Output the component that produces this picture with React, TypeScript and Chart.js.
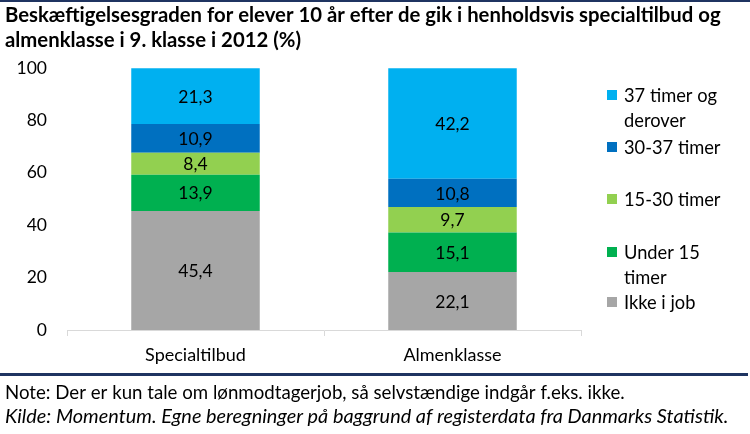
import React, { useEffect, useRef } from 'react';
import { Chart, registerables } from 'chart.js';

Chart.register(...registerables);

const categories = ['Specialtilbud', 'Almenklasse'];
const seriesNames = ['Ikke i job', 'Under 15 timer', '15-30 timer', '30-37 timer', '37 timer og derover'];
const ikkeIJob = [45.4, 22.1];
const under15 = [13.9, 15.1];
const timer15til30 = [8.4, 9.7];
const timer30til37 = [10.9, 10.8];
const timer37plus = [21.3, 42.2];
const seriesColors = ['#A6A6A6', '#00B050', '#92D050', '#0070C0', '#00B0F0'];
const yMin = 0;
const yMax = 100;
const yStep = 20;

const titleLines = [
  'Beskæftigelsesgraden for elever 10 år efter de gik i henholdsvis specialtilbud og',
  'almenklasse i 9. klasse i 2012 (%)',
];
const noteText = 'Note: Der er kun tale om lønmodtagerjob, så selvstændige indgår f.eks. ikke.';
const sourceText = 'Kilde: Momentum. Egne beregninger på baggrund af registerdata fra Danmarks Statistik.';
// legend (top to bottom), wrapped as in the original
const legendLines = [
  ['37 timer og', 'derover'],
  ['30-37 timer'],
  ['15-30 timer'],
  ['Under 15', 'timer'],
  ['Ikke i job'],
];
const legendColors = ['#00B0F0', '#0070C0', '#92D050', '#00B050', '#A6A6A6'];

const FONT = 'Lato, "Open Sans", sans-serif';
const NAVY = '#1F3461';

// pick a font size so that a text spans a given width
function fitFont(ctx: CanvasRenderingContext2D, style: string, text: string, target: number, maxSize: number) {
  ctx.font = `${style} 20px ${FONT}`;
  const w = ctx.measureText(text).width;
  const size = Math.min(maxSize, (20 * target) / w);
  return `${style} ${size.toFixed(2)}px ${FONT}`;
}

const decorPlugin = {
  id: 'decor',
  afterDatasetsDraw(chart: any) {
    const ctx = chart.ctx;
    ctx.save();
    ctx.font = `17.5px ${FONT}`;
    ctx.fillStyle = '#000';
    ctx.textAlign = 'center';
    ctx.textBaseline = 'middle';
    chart.data.datasets.forEach((ds: any, i: number) => {
      const meta = chart.getDatasetMeta(i);
      meta.data.forEach((el: any, j: number) => {
        const v = ds.data[j];
        const y = (el.y + el.base) / 2;
        ctx.fillText(v.toFixed(1).replace('.', ','), el.x, y + 1);
      });
    });
    ctx.restore();
  },
  afterDraw(chart: any) {
    const ctx = chart.ctx;
    const W = chart.width;
    ctx.save();
    // top rule
    ctx.fillStyle = NAVY;
    ctx.fillRect(0, 0, W, 2);
    // title
    ctx.fillStyle = '#000';
    ctx.textAlign = 'left';
    ctx.textBaseline = 'alphabetic';
    ctx.font = fitFont(ctx, 'bold', titleLines[0], 716, 21);
    ctx.fillText(titleLines[0], 5, 22);
    ctx.fillText(titleLines[1], 5, 47);
    // separator
    ctx.fillStyle = NAVY;
    ctx.fillRect(0, 373, 748, 3);
    // note + source
    ctx.fillStyle = '#000';
    ctx.font = fitFont(ctx, 'normal', noteText, 620, 20);
    ctx.fillText(noteText, 5, 399);
    ctx.font = fitFont(ctx, 'italic', sourceText, 724, 20);
    ctx.fillText(sourceText, 5, 423);
    // legend
    const firstLineY = [95, 147, 199, 252, 302];
    ctx.font = `18.3px ${FONT}`;
    ctx.textBaseline = 'middle';
    legendLines.forEach((lines, i) => {
      const y0 = firstLineY[i];
      ctx.fillStyle = legendColors[i];
      ctx.fillRect(607, y0 - 5, 10, 10);
      ctx.fillStyle = '#000';
      lines.forEach((t, k) => ctx.fillText(t, 624, y0 + k * 25 + 1));
    });
    ctx.restore();
  },
};

export default function App() {
  const canvasRef = useRef<HTMLCanvasElement | null>(null);

  useEffect(() => {
    let chart: Chart | null = null;
    let cancelled = false;
    const build = () => {
      if (cancelled || !canvasRef.current) return;
      const data = [ikkeIJob, under15, timer15til30, timer30til37, timer37plus];
      chart = new Chart(canvasRef.current, {
        type: 'bar',
        data: {
          labels: categories,
          datasets: seriesNames.map((name, i) => ({
            label: name,
            data: data[i],
            backgroundColor: seriesColors[i],
            borderWidth: 0,
            barPercentage: 0.5,
            categoryPercentage: 1,
          })),
        },
        options: {
          responsive: false,
          animation: false,
          devicePixelRatio: 1,
          layout: { padding: { top: 68, right: 169, bottom: 0, left: 0 } },
          plugins: {
            legend: { display: false },
            title: { display: false },
            tooltip: { enabled: false },
          },
          scales: {
            x: {
              stacked: true,
              grid: {
                offset: true,
                drawOnChartArea: false,
                drawTicks: true,
                tickLength: 6,
                color: '#D9D9D9',
              },
              border: { display: true, color: '#D9D9D9', width: 1 },
              ticks: {
                color: '#000',
                font: { family: FONT, size: 18 },
                padding: 8,
              },
              afterFit: (scale: any) => {
                scale.height = 104;
              },
            },
            y: {
              stacked: true,
              min: yMin,
              max: yMax,
              grid: { display: false, drawTicks: false },
              border: { display: false },
              ticks: {
                stepSize: yStep,
                color: '#000',
                font: { family: FONT, size: 17.5 },
                padding: 20,
              },
              afterFit: (scale: any) => {
                scale.width = 67;
              },
            },
          },
        },
        plugins: [decorPlugin],
      });
    };
    const fontsApi = (document as any).fonts;
    if (fontsApi && fontsApi.load) {
      Promise.all([
        fontsApi.load(`16px Lato`),
        fontsApi.load(`bold 16px Lato`),
        fontsApi.load(`italic 16px Lato`),
      ]).then(build, build);
    } else {
      build();
    }
    return () => {
      cancelled = true;
      if (chart) chart.destroy();
    };
  }, []);

  return (
    <div style={{ position: 'fixed', left: 0, top: 0, width: 750, height: 434, background: '#fff' }}>
      <canvas ref={canvasRef} width={750} height={434} style={{ display: 'block', width: 750, height: 434 }} />
    </div>
  );
}
